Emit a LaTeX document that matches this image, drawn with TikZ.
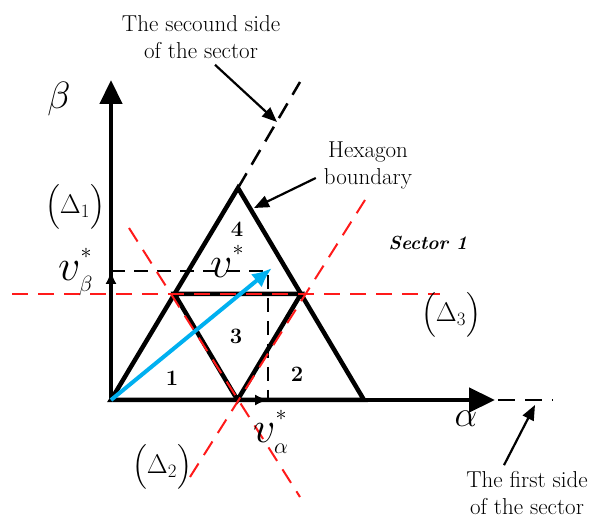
\documentclass[tikz,border=0pt]{standalone}
\usepackage{fix-cm}
\usepackage{amsmath}
\usepackage{tikz}
\usetikzlibrary{arrows.meta}
\definecolor{deltacolor}{HTML}{FF1A1A}
\definecolor{vcolor}{HTML}{00B0F0}
\newcommand{\hstar}{\raisebox{7pt}[0pt][0pt]{$\scriptscriptstyle *$}}

\begin{document}
\begin{tikzpicture}[x=1pt, y=-1pt,
  thickline/.style={line width=4.5pt, line join=miter},
  deltaline/.style={deltacolor, line width=2pt, dash pattern=on 16pt off 10pt},
  sideline/.style={line width=2.5pt, dash pattern=on 17pt off 10pt},
  compline/.style={line width=2pt, dash pattern=on 14pt off 9pt},
  comparrow/.style={line width=2pt, -{Latex[length=13pt,width=11pt]}},
  note/.style={line width=2.2pt, -{Triangle[length=15pt,width=12pt]}},
  notetext/.style={font=\fontsize{23}{27}\selectfont, align=center, inner sep=2pt},
  deltalabel/.style={font=\fontsize{27}{29}\selectfont},
  vlabel/.style={font=\fontsize{44}{44}\selectfont, inner sep=0pt, anchor=base west},
  region/.style={font=\fontsize{22}{22}\selectfont\bfseries, inner sep=1pt}]
  \useasboundingbox (0,0) rectangle (595,521);
  % Points of the sector
  \coordinate (O) at (111,400);
  \coordinate (A) at (364,400);
  \coordinate (T) at (238,188);
  \coordinate (M1) at (174.5,294);
  \coordinate (M2) at (301,294);
  \coordinate (M3) at (237.5,400);
  \coordinate (alphatip) at (495,400);
  \coordinate (betatip) at (111,80);
  \coordinate (V) at (272,268);
  \coordinate (Vb) at (111,271);
  \coordinate (Va) at (268,400);
  \coordinate (Vc) at (268,271);
  % Sector sides
  \coordinate (side2) at (300,82);
  \coordinate (side1) at (553,400);
  \draw[sideline] (T) -- (side2);
  \draw[sideline] ([xshift=3pt]alphatip) -- (side1);
  % Axes
  \draw[thickline, -{Triangle[length=26pt,width=24pt]}] (O) -- (alphatip);
  \draw[thickline, -{Triangle[length=24pt,width=22pt]}] (O) -- (betatip);
  % Hexagon boundary and inner triangle
  \draw[thickline] (O) -- (T) -- (A) -- cycle;
  \draw[thickline] (M1) -- (M2) -- (M3) -- cycle;
  % Components of the reference vector
  \draw[compline] (Vb) -- (Vc) -- (Va);
  \draw[comparrow] (O) -- (Vb);
  \draw[comparrow] (O) -- (Va);
  % Delta lines
  \coordinate (d1a) at (129,228);
  \coordinate (d1b) at (300,497);
  \coordinate (d2a) at (190,477);
  \coordinate (d2b) at (365,200);
  \coordinate (d3a) at (12,294);
  \coordinate (d3b) at (440,294);
  \draw[deltaline] (d1a) -- (d1b);
  \draw[deltaline] (d2a) -- (d2b);
  \draw[deltaline] (d3a) -- (d3b);
  % Reference vector
  \draw[vcolor, line width=4pt, -{Latex[length=20pt,width=17pt]}] (O) -- (V);
  % Labels
  \node[font=\fontsize{38}{38}\selectfont] (labbeta) at (59,99) {$\beta$};
  \node[font=\fontsize{36}{36}\selectfont] (labalpha) at (466,419) {$\alpha$};
  \node[deltalabel] (delta1) at (75,207) {$\Bigl(\Delta_1\Bigr)$};
  \node[deltalabel] (delta2) at (162,467) {$\Bigl(\Delta_2\Bigr)$};
  \node[deltalabel] (delta3) at (451,315) {$\Bigl(\Delta_3\Bigr)$};
  \node[vlabel] (vbeta) at (58,281) {$v^{\hstar}_{\scriptscriptstyle\beta}$};
  \node[vlabel] (vstar) at (210,278) {$v^{\hstar}$};
  \node[vlabel] (valpha) at (253,443) {$v^{\hstar}_{\scriptscriptstyle\alpha}$};
  \node[region] (reg1) at (172,378) {1};
  \node[region] (reg2) at (297,374) {2};
  \node[region] (reg3) at (236,336) {3};
  \node[region] (reg4) at (237,229) {4};
  \node[font=\fontsize{19}{19}\selectfont\bfseries\itshape] (sector) at (428,243) {Sector 1};
  % Notes
  \node[notetext] (secnote) at (201,37) {The secound side\\of the sector};
  \node[notetext] (hexnote) at (368,165) {Hexagon\\boundary};
  \node[notetext] (firstnote) at (527,493) {The first side\\of the sector};
  \coordinate (secpt) at (277,122);
  \coordinate (hexpt) at (254,208);
  \coordinate (firstpt) at (535,405);
  \draw[note] ([xshift=14pt,yshift=-4pt]secnote.south) -- (secpt);
  \draw[note] ([xshift=-6pt,yshift=-13pt]hexnote.west) -- (hexpt);
  \draw[note] ([xshift=-23pt,yshift=4pt]firstnote.north) -- (firstpt);
\end{tikzpicture}
\end{document}
